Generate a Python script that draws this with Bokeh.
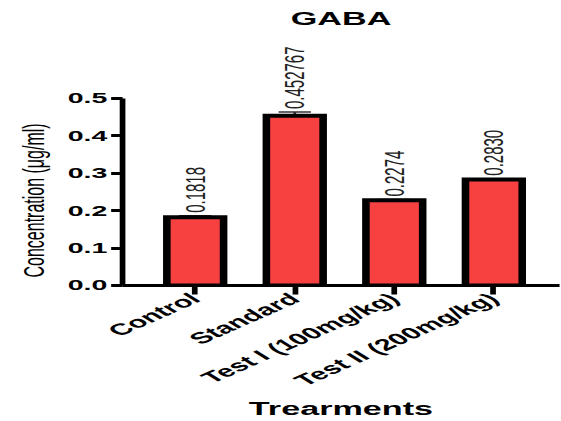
import math

from bokeh.core.properties import value
from bokeh.embed import file_html
from bokeh.models import (ColumnDataSource, FixedTicker, InlineStyleSheet, Label,
                          NumeralTickFormatter, Range1d, TeeHead, Title, Whisker)
from bokeh.plotting import figure
from bokeh.resources import INLINE

# ---- data -------------------------------------------------------------
treatments = ["Control", "Standard", "Test I (100mg/kg)", "Test II (200mg/kg)"]
concentration = [0.1818, 0.452767, 0.2274, 0.2830]
sem = [0.004, 0.010, 0.002, 0.002]
value_labels = ["0.1818", "0.452767", "0.2274", "0.2830"]
y_ticks = [0.0, 0.1, 0.2, 0.3, 0.4, 0.5]

# ---- layout -----------------------------------------------------------
STRETCH = 1.9          # horizontal scale applied to the drawing canvas
W, H = 295, 421
FONT = "Liberation Sans"

xs = list(range(len(treatments)))
src = ColumnDataSource(dict(
    x=xs,
    top=concentration,
    upper=[c + e for c, e in zip(concentration, sem)],
    label=value_labels,
))

p = figure(width=W, height=H, output_backend="svg", toolbar_location=None,
           x_range=Range1d(-0.73, 3.66), y_range=Range1d(0, 0.747),
           min_border_left=63, min_border_right=1, min_border_top=5,
           min_border_bottom=135)
p.outline_line_color = None
p.grid.visible = False
p.background_fill_color = "white"
p.border_fill_color = "white"
p.stylesheets = [InlineStyleSheet(
    css=f".bk-Canvas {{ transform: scaleX({STRETCH}); transform-origin: 0 0; }}")]

# bars
p.vbar(x="x", top="top", bottom=0, width=0.57, source=src,
       fill_color="#F74141", line_color="black", line_width=4,
       line_join="miter")

# SEM whiskers (upper half only)
p.add_layout(Whisker(base="x", lower="top", upper="upper", source=src,
                     line_color="#333333", line_width=1.5,
                     upper_head=TeeHead(size=17, line_color="#333333",
                                        line_width=1.5),
                     lower_head=None))

# value labels above each bar
p.text(x="x", y="upper", text="label", source=src, angle=math.pi / 2,
       text_align="left", text_baseline="middle", y_offset=-3,
       text_font=value(FONT), text_font_size="15px", text_color="#222222")

# ---- axes -------------------------------------------------------------
xa = p.xaxis[0]
xa.ticker = FixedTicker(ticks=xs)
xa.major_label_overrides = {i: t for i, t in enumerate(treatments)}
xa.major_label_orientation = math.radians(40)
xa.major_label_text_font = FONT
xa.major_label_text_font_style = "bold"
xa.major_label_text_font_size = "16px"
xa.major_label_text_color = "black"
xa.major_label_standoff = 2
xa.minor_tick_line_color = None
xa.major_tick_in = 0
xa.major_tick_out = 9
xa.major_tick_line_width = 3
xa.axis_line_width = 3
xa.axis_label = "Trearments"
xa.axis_label_text_font = FONT
xa.axis_label_text_font_style = "bold"
xa.axis_label_text_font_size = "18px"
xa.axis_label_text_color = "black"
xa.axis_label_standoff = 0

ya = p.yaxis[0]
ya.ticker = FixedTicker(ticks=y_ticks)
ya.formatter = NumeralTickFormatter(format="0.0")
ya.bounds = (0, 0.5)
ya.major_label_text_font = FONT
ya.major_label_text_font_style = "bold"
ya.major_label_text_font_size = "15px"
ya.major_label_text_color = "black"
ya.major_label_standoff = 2
ya.minor_tick_line_color = None
ya.major_tick_in = 0
ya.major_tick_out = 6
ya.major_tick_line_width = 3
ya.axis_line_width = 3

# y-axis caption, kept level with the 0-0.5 span of the axis
p.add_layout(Title(text="Concentration (μg/ml)", align="left", offset=8,
                   standoff=13, text_font=FONT, text_font_style="normal",
                   text_font_size="16px", text_color="black"), "left")

# ---- chart title ------------------------------------------------------
mid_x = (p.x_range.start + p.x_range.end) / 2
p.add_layout(Label(x=mid_x, y=0.710, text="GABA", text_align="center",
                   text_baseline="middle", text_font=FONT,
                   text_font_style="bold", text_font_size="18px",
                   text_color="black"))

open("out.html", "w").write(file_html(p, INLINE))
